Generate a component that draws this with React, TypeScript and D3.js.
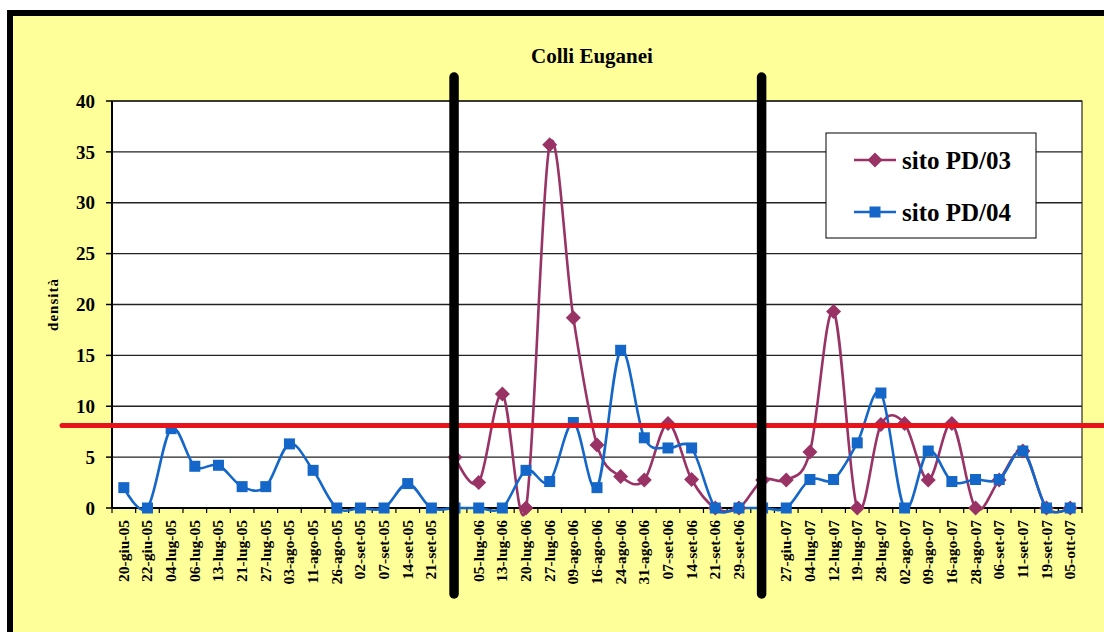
import React from "react";
import * as d3 from "d3";

const categories: string[] = [
  "20-giu-05", "22-giu-05", "04-lug-05", "06-lug-05", "13-lug-05", "21-lug-05", "27-lug-05",
  "03-ago-05", "11-ago-05", "26-ago-05", "02-set-05", "07-set-05", "14-set-05", "21-set-05",
  "",
  "05-lug-06", "13-lug-06", "20-lug-06", "27-lug-06", "09-ago-06", "16-ago-06", "24-ago-06",
  "31-ago-06", "07-set-06", "14-set-06", "21-set-06", "29-set-06",
  "",
  "27-giu-07", "04-lug-07", "12-lug-07", "19-lug-07", "28-lug-07", "02-ago-07", "09-ago-07",
  "16-ago-07", "28-ago-07", "06-set-07", "11-set-07", "19-set-07", "05-ott-07",
];

const sitoPD03: (number | null)[] = [
  null, null, null, null, null, null, null, null, null, null, null, null, null, null,
  5.0,
  2.5, 11.2, 0, 35.7, 18.7, 6.2, 3.1, 2.75, 8.3, 2.8, 0, 0,
  2.75,
  2.75, 5.5, 19.3, 0, 8.2, 8.3, 2.75, 8.3, 0, 2.75, 5.6, 0, 0,
];

const sitoPD04: (number | null)[] = [
  2.0, 0, 7.8, 4.1, 4.2, 2.1, 2.1, 6.3, 3.7, 0, 0, 0, 2.4, 0,
  0,
  0, 0, 3.7, 2.6, 8.4, 2.0, 15.5, 6.9, 5.9, 5.9, 0, 0,
  0,
  0, 2.8, 2.8, 6.4, 11.3, 0, 5.6, 2.6, 2.8, 2.8, 5.6, 0, 0,
];

const yTicks: number[] = [0, 5, 10, 15, 20, 25, 30, 35, 40];
const thresholdValue = 8.1;
const separatorIndexes: number[] = [14, 27];
const seriesNames: string[] = ["sito PD/03", "sito PD/04"];

const W = 1104;
const H = 632;
const plot = { left: 112, right: 1082, top: 101, bottom: 508 };
const PURPLE = "#993366";
const BLUE = "#1466C8";
const YELLOW = "#FFFF99";
const SERIF = "'Liberation Serif', 'Times New Roman', serif";

export default function App() {
  const idx = categories.map((_, i) => i);
  const x = d3.scaleBand<number>().domain(idx).range([plot.left, plot.right]).padding(0);
  const cx = (i: number) => (x(i) as number) + x.bandwidth() / 2;
  const y = d3.scaleLinear().domain([0, 40]).range([plot.bottom, plot.top]);

  const line = d3
    .line<number | null>()
    .defined((d) => d !== null)
    .x((_, i) => cx(i))
    .y((d) => y(d as number))
    .curve(d3.curveCardinal.tension(0));

  const boundaries = d3.range(categories.length + 1).map((i) => plot.left + i * x.bandwidth());

  const diamond = (px: number, py: number, r: number) =>
    `M${px},${py - r}L${px + r},${py}L${px},${py + r}L${px - r},${py}Z`;

  return (
    <svg
      width={W}
      height={H}
      style={{ position: "absolute", left: 0, top: 0, display: "block" }}
      fontFamily={SERIF}
    >
      <rect x={0} y={0} width={W} height={H} fill="#ffffff" />
      <rect x={7} y={10} width={W - 7} height={H - 10} fill="#000000" />
      <rect x={13} y={16} width={W - 13} height={H - 16} fill={YELLOW} />

      {/* title */}
      <text x={592} y={63} textAnchor="middle" fontWeight="bold" fontSize={21}>
        Colli Euganei
      </text>

      {/* plot area */}
      <rect x={plot.left} y={plot.top} width={plot.right - plot.left} height={plot.bottom - plot.top} fill="#ffffff" stroke="#000" strokeWidth={1} />

      {/* gridlines */}
      {yTicks.map((t) => (
        <line key={"g" + t} x1={plot.left} x2={plot.right} y1={y(t)} y2={y(t)} stroke="#222" strokeWidth={1.3} />
      ))}

      {/* y axis */}
      <line x1={plot.left} x2={plot.left} y1={plot.top} y2={plot.bottom} stroke="#000" strokeWidth={2} />
      {yTicks.map((t) => (
        <g key={"yt" + t}>
          <line x1={plot.left - 6} x2={plot.left} y1={y(t)} y2={y(t)} stroke="#000" strokeWidth={1.5} />
          <text x={plot.left - 17} y={y(t)} dy="0.35em" textAnchor="end" fontWeight="bold" fontSize={19}>
            {t}
          </text>
        </g>
      ))}
      <text
        transform={`translate(58,${(plot.top + plot.bottom) / 2}) rotate(-90)`}
        textAnchor="middle"
        fontWeight="bold"
        fontSize={15}
        letterSpacing={1}
      >
        densità
      </text>

      {/* x axis */}
      <line x1={plot.left} x2={plot.right} y1={plot.bottom} y2={plot.bottom} stroke="#000" strokeWidth={2} />
      {boundaries.map((bx, i) => (
        <line key={"xt" + i} x1={bx} x2={bx} y1={plot.bottom} y2={plot.bottom + 5} stroke="#000" strokeWidth={1.2} />
      ))}
      {categories.map((c, i) => (
        <text
          key={"xl" + i}
          transform={`translate(${cx(i) + 5},${plot.bottom + 12}) rotate(-90)`}
          textAnchor="end"
          fontWeight="bold"
          fontSize={15.5}
        >
          {c}
        </text>
      ))}

      {/* series lines */}
      <path d={line(sitoPD03) || ""} fill="none" stroke={PURPLE} strokeWidth={2.6} />
      <path d={line(sitoPD04) || ""} fill="none" stroke={BLUE} strokeWidth={2.6} />

      {/* markers */}
      {sitoPD03.map((v, i) =>
        v === null ? null : <path key={"m3" + i} d={diamond(cx(i), y(v), 7.5)} fill={PURPLE} />
      )}
      {sitoPD04.map((v, i) =>
        v === null ? null : (
          <rect key={"m4" + i} x={cx(i) - 5.5} y={y(v) - 5.5} width={11} height={11} fill={BLUE} />
        )
      )}

      {/* threshold */}
      <line x1={62} x2={W} y1={y(thresholdValue)} y2={y(thresholdValue)} stroke="#E8141B" strokeWidth={5} strokeLinecap="round" />

      {/* separators */}
      {separatorIndexes.map((si) => (
        <line key={"sep" + si} x1={cx(si) - 1} x2={cx(si) - 1} y1={77} y2={594} stroke="#000" strokeWidth={9.5} strokeLinecap="round" />
      ))}

      {/* legend */}
      <rect x={826} y={133} width={210} height={105} fill="#ffffff" stroke="#000" strokeWidth={1} />
      {seriesNames.map((name, k) => {
        const ly = 160 + k * 52;
        const col = k === 0 ? PURPLE : BLUE;
        return (
          <g key={"lg" + k}>
            <line x1={854} x2={896} y1={ly} y2={ly} stroke={col} strokeWidth={2.6} />
            {k === 0 ? (
              <path d={diamond(875, ly, 7.5)} fill={col} />
            ) : (
              <rect x={875 - 5.5} y={ly - 5.5} width={11} height={11} fill={col} />
            )}
            <text x={902} y={ly} dy="0.35em" fontWeight="bold" fontSize={25}>
              {name}
            </text>
          </g>
        );
      })}
    </svg>
  );
}
